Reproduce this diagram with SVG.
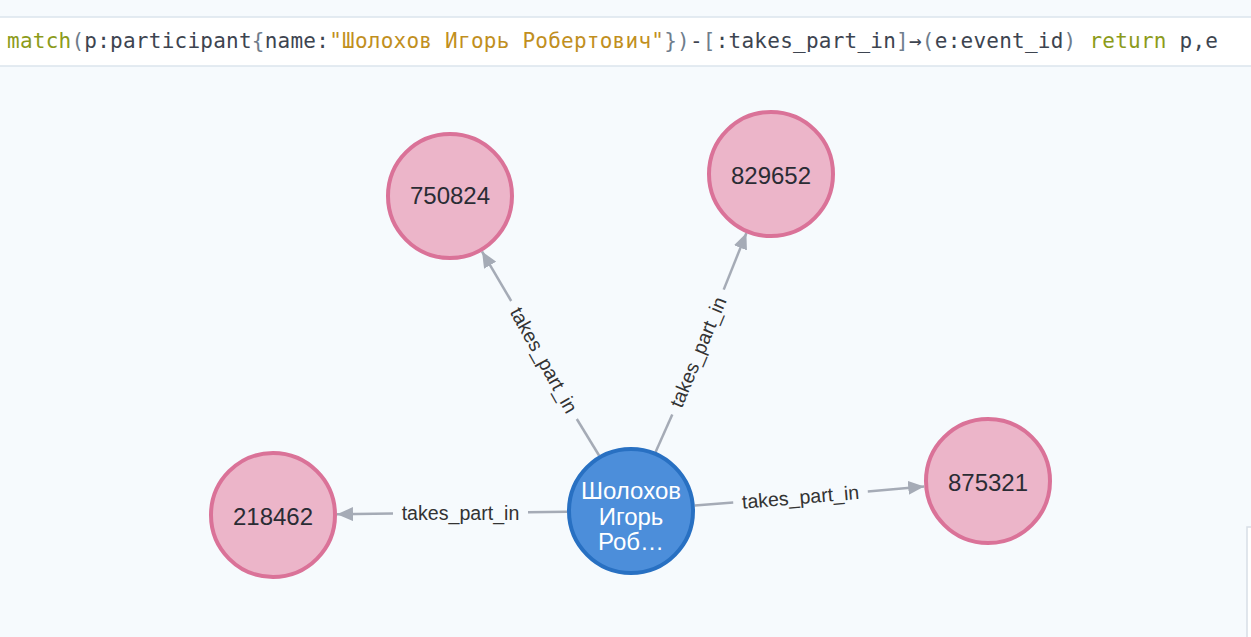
<svg xmlns="http://www.w3.org/2000/svg" width="1251" height="637" viewBox="0 0 1251 637">
  <defs>
    <marker id="arrow" viewBox="0 0 16 14" refX="16" refY="7" markerWidth="16" markerHeight="14" markerUnits="userSpaceOnUse" orient="auto">
      <path d="M0,0 L16,7 L0,14 Z" fill="#a5abb6"/>
    </marker>
    <style>
      .edge { stroke: #a5abb6; stroke-width: 2.5; fill: none; }
      .elabel { font-family: "Liberation Sans", Arial, sans-serif; font-size: 19.6px; fill: #333333; text-anchor: middle; }
      .event circle { fill: #ecb5c9; stroke: #da7298; stroke-width: 4; }
      .event text { font-family: "Liberation Sans", Arial, sans-serif; font-size: 24px; fill: #2a2c34; text-anchor: middle; }
      .person circle { fill: #4c8eda; stroke: #2870c2; stroke-width: 4; }
      .person text { font-family: "Liberation Sans", Arial, sans-serif; font-size: 24px; fill: #ffffff; text-anchor: middle; }
      .q { font-family: "DejaVu Sans Mono", "Liberation Mono", monospace; font-size: 21px; fill: #3d4450; }
      .kw { fill: #8c9b1a; }
      .str { fill: #c18f1e; }
      .pn { fill: #6f7d8c; }
    </style>
  </defs>

  <rect x="0" y="0" width="1251" height="637" fill="#f6fafd"/>

  <g id="query-bar">
    <rect x="0" y="17" width="1251" height="49" fill="#ffffff"/>
    <line x1="0" y1="17" x2="1251" y2="17" stroke="#dbe4ec" stroke-width="1.5"/>
    <line x1="0" y1="66" x2="1251" y2="66" stroke="#dbe4ec" stroke-width="1.5"/>
    <text class="q" x="7" y="48" textLength="1211" lengthAdjust="spacing"><tspan class="kw">match</tspan><tspan class="pn">(</tspan>p:participant<tspan class="pn">{</tspan>name:<tspan class="str">"Шолохов Игорь Робертович"</tspan><tspan class="pn">})</tspan>-<tspan class="pn">[</tspan>:takes_part_in<tspan class="pn">]</tspan>→<tspan class="pn">(</tspan>e:event_id<tspan class="pn">)</tspan> <tspan class="kw">return</tspan> p,e</text>
  </g>

  <rect x="1247" y="527" width="6" height="112" fill="#ffffff" stroke="#d8dee6" stroke-width="1.5"/>

  <g id="connectors">
    <g id="edge-218462">
      <line class="edge" x1="567" y1="511.7" x2="528" y2="512.3"/>
      <line class="edge" x1="393" y1="513.6" x2="337" y2="514.3" marker-end="url(#arrow)"/>
      <text class="elabel" x="460.5" y="513.3" dy="0.35em">takes_part_in</text>
    </g>
    <g id="edge-875321">
      <line class="edge" x1="694.8" y1="505.6" x2="733.2" y2="502.6"/>
      <line class="edge" x1="867.8" y1="491.4" x2="924.2" y2="486.4" marker-end="url(#arrow)"/>
      <text class="elabel" x="800.5" y="497" dy="0.35em" transform="rotate(-4.8 800.5 497)">takes_part_in</text>
    </g>
    <g id="edge-750824">
      <line class="edge" x1="599.1" y1="455.5" x2="576.8" y2="419"/>
      <line class="edge" x1="511.2" y1="301" x2="482" y2="251.5" marker-end="url(#arrow)"/>
      <text class="elabel" x="544" y="360" dy="0.35em" transform="rotate(60.9 544 360)">takes_part_in</text>
    </g>
    <g id="edge-829652">
      <line class="edge" x1="655.6" y1="451.9" x2="672.3" y2="414.4"/>
      <line class="edge" x1="723.7" y1="289.6" x2="746.4" y2="233" marker-end="url(#arrow)"/>
      <text class="elabel" x="698" y="352" dy="0.35em" transform="rotate(-67.4 698 352)">takes_part_in</text>
    </g>
  </g>

  <g id="node-750824" class="event">
    <circle cx="450" cy="196" r="62"/>
    <text x="450" y="196" dy="0.35em">750824</text>
  </g>
  <g id="node-829652" class="event">
    <circle cx="771" cy="174" r="62"/>
    <text x="771" y="176" dy="0.35em">829652</text>
  </g>
  <g id="node-218462" class="event">
    <circle cx="273" cy="515" r="62"/>
    <text x="273" y="517" dy="0.35em">218462</text>
  </g>
  <g id="node-875321" class="event">
    <circle cx="988" cy="481" r="62"/>
    <text x="988" y="483" dy="0.35em">875321</text>
  </g>
  <g id="node-participant" class="person">
    <circle cx="631" cy="511" r="62"/>
    <text x="631" y="491" dy="0.35em">Шолохов</text>
    <text x="631" y="517" dy="0.35em">Игорь</text>
    <text x="631" y="542" dy="0.35em">Роб…</text>
  </g>
</svg>
